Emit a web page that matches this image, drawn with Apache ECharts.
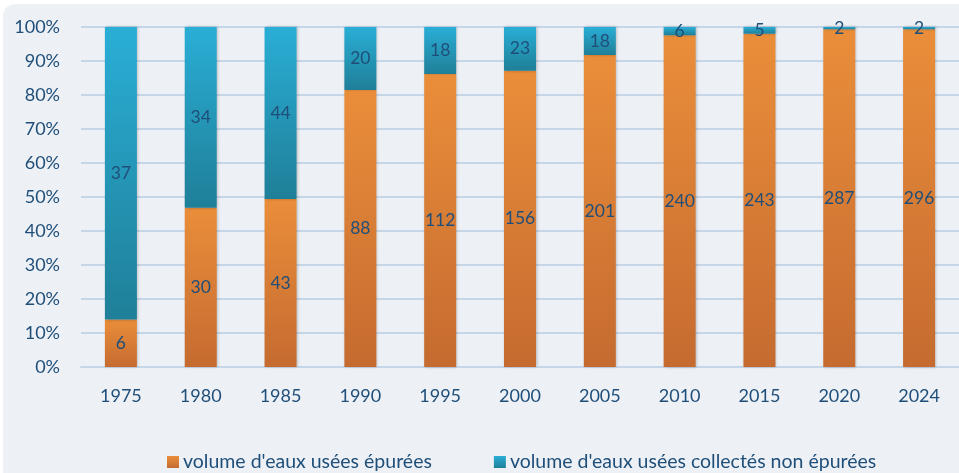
<!DOCTYPE html>
<html>
<head>
<meta charset="utf-8">
<script src="https://cdn.jsdelivr.net/npm/echarts@6/dist/echarts.min.js"></script>
<style>
  html, body { margin: 0; padding: 0; background: #ffffff; }
  #chart {
    position: absolute;
    left: 3px;
    top: 4px;
    width: 956px;
    height: 469px;
    background: #edf1f6;
    border-radius: 12px 0 0 0;
    overflow: hidden;
  }
</style>
</head>
<body>
<div id="chart"></div>
<script>
// années
var years = ["1975", "1980", "1985", "1990", "1995", "2000", "2005", "2010", "2015", "2020", "2024"];
// volumes épurés
var epurees = [6, 30, 43, 88, 112, 156, 201, 240, 243, 287, 296];
// volumes collectés non épurés
var nonEpurees = [37, 34, 44, 20, 18, 23, 18, 6, 5, 2, 2];

var textColor = "#1f4e79";
var font = "Lato, 'Open Sans', sans-serif";

// parts en % (empilement 100%)
function share(arr) {
  return arr.map(function (v, i) {
    return (v / (epurees[i] + nonEpurees[i])) * 100;
  });
}

function grad(top, bottom) {
  return new echarts.graphic.LinearGradient(0, 0, 0, 1, [
    { offset: 0, color: top },
    { offset: 1, color: bottom }
  ]);
}

var chart = echarts.init(document.getElementById("chart"));
chart.setOption({
  animation: false,
  grid: { left: 78, top: 23, width: 881, height: 340 },
  legend: {
    top: 443,
    left: 159,
    itemWidth: 12,
    itemHeight: 12,
    itemGap: 62,
    icon: "rect",
    textStyle: { color: textColor, fontSize: 19.5, fontFamily: font, padding: [0, 0, 0, -1] },
    data: ["volume d'eaux usées épurées", "volume d'eaux usées collectés non épurées"]
  },
  xAxis: {
    type: "category",
    data: years,
    axisLine: { lineStyle: { color: "#c5d6e8", width: 2 } },
    axisTick: { show: false },
    axisLabel: { color: textColor, fontSize: 18, fontFamily: font, margin: 20 }
  },
  yAxis: {
    type: "value",
    min: 0,
    max: 100,
    interval: 10,
    axisLine: { show: false },
    axisTick: { show: false },
    axisLabel: { color: textColor, fontSize: 18, fontFamily: font, margin: 21, formatter: "{value}%" },
    splitLine: { lineStyle: { color: "#c5d6e8", width: 2 } }
  },
  series: [
    {
      name: "volume d'eaux usées épurées",
      type: "bar",
      stack: "total",
      barWidth: 32,
      data: share(epurees),
      itemStyle: {
        color: grad("#ea8e3a", "#c56b30"),
        shadowBlur: 3,
        shadowColor: "rgba(0,0,0,0.25)",
        shadowOffsetX: 1
      },
      label: {
        show: true,
        position: "inside",
        color: textColor,
        fontSize: 17.5,
        fontFamily: font,
        formatter: function (p) { return epurees[p.dataIndex]; }
      }
    },
    {
      name: "volume d'eaux usées collectés non épurées",
      type: "bar",
      stack: "total",
      barWidth: 32,
      data: share(nonEpurees),
      itemStyle: {
        color: grad("#2aaed6", "#1f7f98"),
        shadowBlur: 3,
        shadowColor: "rgba(0,0,0,0.25)",
        shadowOffsetX: 1
      },
      label: {
        show: true,
        position: "inside",
        color: textColor,
        fontSize: 17.5,
        fontFamily: font,
        formatter: function (p) { return nonEpurees[p.dataIndex]; }
      }
    }
  ]
});
</script>
</body>
</html>
